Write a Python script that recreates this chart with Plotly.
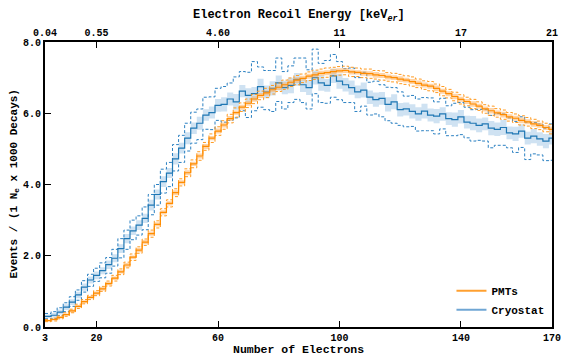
import numpy as np
import plotly.graph_objects as go

# bin centres (2-electron bins)
electrons = list(range(4, 171, 2))

pmt = [0.18,0.21,0.27,0.35,0.45,0.58,0.71,0.83,0.95,
       1.07,1.22,1.37,1.55,1.74,1.96,2.16,2.38,2.62,2.88,
       3.22,3.47,3.77,4.06,4.33,4.58,4.8,5.07,5.3,5.5,
       5.67,5.85,6.02,6.17,6.28,6.4,6.5,6.57,6.66,6.73,6.8,6.87,6.93,6.98,7.04,7.08,7.12,7.14,7.17,7.19,
       7.2,7.16,7.15,7.12,7.11,7.08,7.06,7.02,7.0,6.96,6.93,6.89,6.84,6.79,6.76,6.7,6.62,6.55,6.47,6.39,
       6.33,6.26,6.2,6.12,6.07,6.01,5.96,5.9,5.86,5.8,5.76,5.7,5.66,5.6,5.55]
pmt_band = [0.02,0.03,0.03,0.03,0.04,0.04,0.04,0.04,0.05,
            0.05,0.05,0.05,0.05,0.06,0.05,0.06,0.06,0.06,0.06,
            0.06,0.06,0.07,0.06,0.07,0.06,0.07,0.07,0.06,0.07,
            0.07,0.07,0.06,0.07,0.07,0.08,0.07,0.07,0.07,0.08,0.07,0.07,0.08,0.07,0.07,0.08,0.07,0.07,0.08,0.07,
            0.07,0.07,0.06,0.07,0.07,0.08,0.07,0.07,0.07,0.08,0.07,0.07,0.08,0.07,0.07,0.08,0.07,0.07,0.08,0.07,
            0.07,0.08,0.07,0.07,0.08,0.07,0.08,0.07,0.07,0.08,0.07,0.08,0.07,0.07,0.08]
pmt_dash = [0.03,0.04,0.04,0.05,0.05,0.06,0.06,0.06,0.07,
            0.07,0.07,0.08,0.08,0.08,0.09,0.09,0.09,0.1,0.1,
            0.1,0.1,0.11,0.1,0.11,0.11,0.12,0.11,0.12,0.12,
            0.12,0.12,0.13,0.12,0.12,0.13,0.12,0.13,0.12,0.12,0.13,0.12,0.13,0.12,0.12,0.13,0.12,0.13,0.12,0.12,
            0.12,0.13,0.12,0.12,0.13,0.12,0.13,0.12,0.12,0.13,0.12,0.13,0.12,0.12,0.13,0.12,0.13,0.12,0.12,0.13,
            0.12,0.13,0.12,0.12,0.13,0.12,0.13,0.12,0.12,0.13,0.12,0.13,0.12,0.12,0.13]

cryo = [0.3,0.33,0.42,0.56,0.7,0.9,1.12,1.32,1.45,
        1.58,1.75,1.93,2.2,2.48,2.7,2.86,3.05,3.42,3.72,
        4.08,4.32,4.72,5.02,5.3,5.58,5.72,5.95,6.02,6.22,
        6.25,6.4,6.32,6.62,6.5,6.55,6.75,6.6,6.7,6.85,6.72,6.78,6.95,6.8,6.72,7.0,6.85,6.78,7.05,6.9,
        6.8,6.72,6.6,6.65,6.45,6.38,6.42,6.25,6.32,6.1,6.12,6.05,5.98,6.06,5.95,5.92,5.98,5.85,5.82,5.9,
        5.75,5.72,5.66,5.7,5.58,5.55,5.6,5.45,5.42,5.5,5.3,5.36,5.28,5.22,5.3]
cryo_band = [0.05,0.06,0.07,0.08,0.08,0.09,0.1,0.1,0.11,
             0.1,0.12,0.11,0.12,0.13,0.12,0.14,0.13,0.15,0.14,
             0.15,0.14,0.16,0.15,0.17,0.16,0.18,0.16,0.17,0.18,
             0.2,0.18,0.22,0.17,0.2,0.19,0.22,0.18,0.2,0.21,0.19,0.22,0.18,0.2,0.21,0.19,0.22,0.18,0.2,0.21,
             0.19,0.2,0.18,0.21,0.19,0.2,0.18,0.2,0.21,0.19,0.18,0.2,0.19,0.21,0.18,0.2,0.19,0.18,0.2,0.19,
             0.18,0.2,0.19,0.18,0.2,0.19,0.21,0.18,0.2,0.19,0.18,0.2,0.19,0.2,0.18]
cryo_up = [0.08,0.1,0.12,0.12,0.15,0.14,0.18,0.16,0.2,
           0.22,0.2,0.25,0.28,0.24,0.3,0.26,0.32,0.3,0.28,
           0.35,0.3,0.4,0.36,0.42,0.45,0.4,0.5,0.44,0.48,
           0.5,0.45,0.7,0.55,0.65,0.9,0.55,0.6,0.5,0.7,0.45,0.55,0.6,0.75,0.5,0.8,0.55,0.7,0.6,0.55,
           0.45,0.55,0.4,0.5,0.42,0.52,0.38,0.48,0.4,0.5,0.36,0.45,0.42,0.38,0.48,0.4,0.44,0.36,0.46,0.4,
           0.42,0.38,0.45,0.4,0.36,0.44,0.38,0.42,0.35,0.4,0.45,0.38,0.42,0.36,0.4]
cryo_dn = [0.07,0.09,0.1,0.13,0.12,0.15,0.14,0.18,0.17,
           0.2,0.24,0.22,0.26,0.3,0.25,0.28,0.32,0.27,0.3,
           0.32,0.38,0.34,0.4,0.36,0.42,0.46,0.4,0.48,0.42,
           0.5,0.6,0.45,0.55,0.62,0.48,0.58,0.5,0.65,0.52,0.6,0.48,0.56,0.5,0.6,0.45,0.55,0.5,0.6,0.52,
           0.5,0.42,0.55,0.45,0.5,0.4,0.52,0.46,0.6,0.44,0.5,0.42,0.48,0.55,0.44,0.5,0.42,0.48,0.45,0.5,
           0.44,0.5,0.42,0.48,0.55,0.45,0.5,0.42,0.52,0.46,0.6,0.5,0.45,0.55,0.62]

bottom_ticks = [3, 20, 60, 100, 140, 170]
top_labels = ["0.04", "0.55", "4.60", "11", "17", "21"]
y_ticks = [0, 2, 4, 6, 8]

FONT = "Liberation Mono, Courier New, monospace"
ORANGE = "#ff8c00"
ORANGE_BAND = "rgba(255,170,80,0.5)"
BLUE = "#1f77b4"
BLUE_BAND = "rgba(140,185,225,0.42)"

c = np.array(electrons, dtype=float)
edges = np.append(c - 1, c[-1] + 1)


def stepy(v):
    v = np.asarray(v, dtype=float)
    return np.append(v, v[-1])


fig = go.Figure()


def add_series(center, band, up, dn, color, band_color, dash_color):
    center = np.asarray(center); band = np.asarray(band)
    up = np.asarray(up); dn = np.asarray(dn)
    fig.add_trace(go.Scatter(x=edges, y=stepy(center - band), mode="lines",
                             line=dict(width=0, shape="hv", color=band_color),
                             showlegend=False, hoverinfo="skip"))
    fig.add_trace(go.Scatter(x=edges, y=stepy(center + band), mode="lines",
                             line=dict(width=0, shape="hv", color=band_color),
                             fill="tonexty", fillcolor=band_color,
                             showlegend=False, hoverinfo="skip"))
    for off in (up, -dn):
        fig.add_trace(go.Scatter(x=edges, y=stepy(center + off), mode="lines",
                                 line=dict(width=1, shape="hv", color=dash_color, dash="3px,2px"),
                                 showlegend=False, hoverinfo="skip"))
    fig.add_trace(go.Scatter(x=edges, y=stepy(center), mode="lines",
                             line=dict(width=1.2, shape="hv", color=color),
                             showlegend=False))


add_series(cryo, cryo_band, cryo_up, cryo_dn, BLUE, BLUE_BAND, "#2b80c2")
add_series(pmt, pmt_band, pmt_dash, pmt_dash, ORANGE, ORANGE_BAND, "#ff9a20")

# legend entries
fig.add_trace(go.Scatter(x=[None], y=[None], mode="lines", name="PMTs",
                         line=dict(color="#ffa030", width=2)))
fig.add_trace(go.Scatter(x=[None], y=[None], mode="lines", name="Cryostat",
                         line=dict(color="#6fa6d4", width=2)))
# dummy trace for top axis
fig.add_trace(go.Scatter(x=[3, 170], y=[None, None], xaxis="x2", mode="lines",
                         showlegend=False, hoverinfo="skip"))

axis_font = dict(family=FONT, size=10, color="black", weight="bold")
title_font = dict(family=FONT, size=12, color="black", weight="bold")

fig.update_layout(
    width=561, height=356,
    margin=dict(l=45, r=9, t=42, b=29, autoexpand=False),
    paper_bgcolor="white", plot_bgcolor="white",
    font=dict(family=FONT, color="black"),
    xaxis=dict(range=[3, 170], tickvals=bottom_ticks, ticktext=[str(t) for t in bottom_ticks],
               ticks="inside", ticklen=6, tickwidth=1, tickcolor="black",
               showline=True, linewidth=2, linecolor="black", showgrid=False, zeroline=False,
               tickfont=axis_font, automargin=False, ticklabeloverflow="allow"),
    xaxis2=dict(range=[3, 170], overlaying="x", side="top", anchor="y",
                tickvals=bottom_ticks, ticktext=top_labels,
                ticks="inside", ticklen=6, tickwidth=1, tickcolor="black",
                showline=True, linewidth=2, linecolor="black", showgrid=False, zeroline=False,
                tickfont=axis_font, automargin=False, ticklabeloverflow="allow"),
    yaxis=dict(range=[0, 8], tickvals=y_ticks, ticktext=[f"{v:.1f}" for v in y_ticks],
               ticks="inside", ticklen=6, tickwidth=1, tickcolor="black",
               showline=True, linewidth=2, linecolor="black", mirror=True,
               showgrid=False, zeroline=False, tickfont=axis_font, automargin=False,
               ticklabeloverflow="allow"),
    annotations=[
        dict(text="Number of Electrons", xref="paper", yref="paper", x=0.5, y=0,
             yshift=-22.5, xanchor="center", yanchor="middle", showarrow=False,
             font=dict(family=FONT, size=11.5, color="black", weight="bold")),
        dict(text="Electron Recoil Energy [keV<sub><i>er</i></sub>]", xref="paper", yref="paper",
             x=0.5, y=1, yshift=26, xanchor="center", yanchor="middle", showarrow=False, font=title_font),
        dict(text="Events / (1 N<sub>e</sub> x 1000 Decays)", xref="paper", yref="paper",
             x=0, y=0.5, xshift=-31, xanchor="center", yanchor="middle", textangle=-90,
             showarrow=False, font=dict(family=FONT, size=11, color="black", weight="bold")),
    ],
    legend=dict(x=0.995, y=0.01, xanchor="right", yanchor="bottom", traceorder="normal",
                bgcolor="rgba(0,0,0,0)", font=dict(family=FONT, size=11, color="black", weight="bold"),
                tracegroupgap=0, itemwidth=30),
    showlegend=True,
)

fig.write_html("out.html")
